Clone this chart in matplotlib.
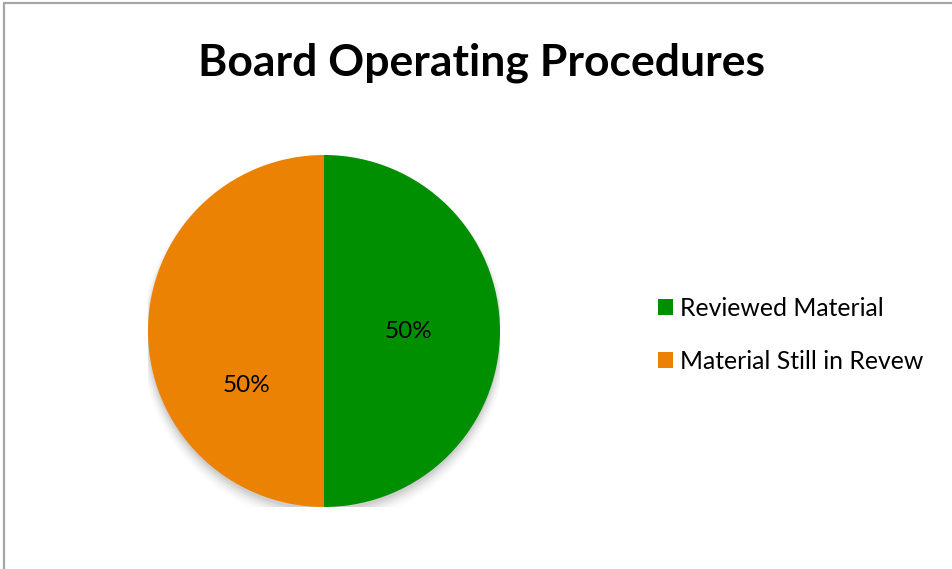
import matplotlib
matplotlib.use("Agg")
import matplotlib.pyplot as plt
import numpy as np
from matplotlib.patches import Rectangle, Patch

title = "Board Operating Procedures"
categories = ["Reviewed Material", "Material Still in Revew"]
values = [50, 50]
colors = ["#008F00", "#EC8204"]

plt.rcParams['font.family'] = ['Lato', 'DejaVu Sans']

W, H = 952, 569
fig = plt.figure(figsize=(W / 100, H / 100), dpi=100)
fig.patch.set_facecolor("white")

# outer chart border
fig.add_artist(Rectangle((4 / W, -0.1), 1.2, (H - 3) / H + 0.1, transform=fig.transFigure,
                         fill=False, edgecolor="#A6A6A6", linewidth=1.6))

cx, cy, r = 324, H - 331, 176
ax = fig.add_axes([(cx - r) / W, (cy - r) / H, 2 * r / W, 2 * r / H])

# soft shadow
for i, a in enumerate(np.linspace(0.05, 0.01, 6)):
    ax.add_patch(plt.Circle((0, -0.02 - 0.006 * i), 1.0 + 0.008 * i, color="black",
                            alpha=a, lw=0, zorder=0))

wedges, texts, autotexts = ax.pie(values, colors=colors, startangle=90, counterclock=False,
                                  autopct="%1.0f%%", pctdistance=0.5,
                                  textprops=dict(fontsize=17.5, color="black"),
                                  wedgeprops=dict(linewidth=0))
for w in wedges:
    w.set_zorder(2)
# label placement similar to reference
autotexts[0].set_position((0.48, 0.0))
autotexts[1].set_position((-0.44, -0.31))
for t in autotexts:
    t.set_zorder(3)
ax.set_xlim(-1, 1)
ax.set_ylim(-1, 1)
ax.set_aspect("equal")
ax.axis("off")

fig.text(482 / W, 1 - 63 / H, title, ha="center", va="center", fontsize=32, fontweight="bold")

handles = [Patch(facecolor=c, edgecolor="none") for c in colors]
fig.legend(handles, categories, loc="center left", bbox_to_anchor=(658 / W, 1 - 335 / H),
           frameon=False, fontsize=17.8, handlelength=0.62, handleheight=0.62,
           handletextpad=0.28, labelspacing=1.2, borderpad=0, borderaxespad=0)

fig.savefig("out.png", dpi=100, facecolor="white")
